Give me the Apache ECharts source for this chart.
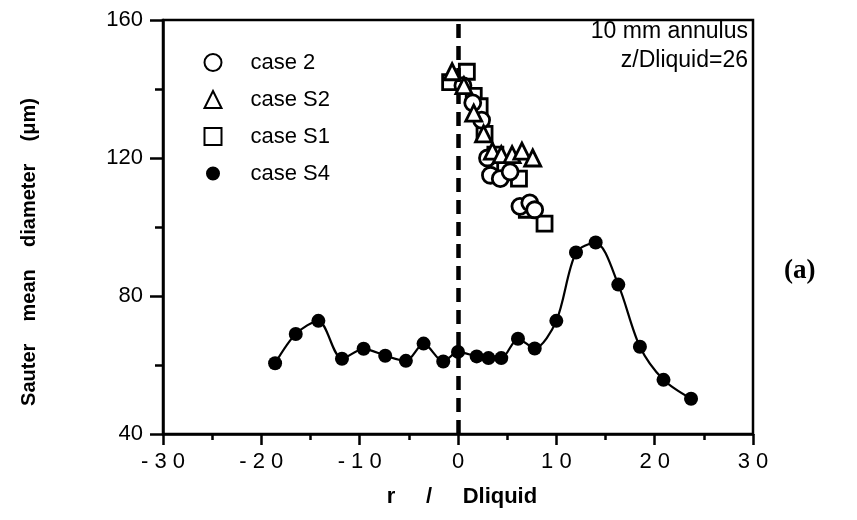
<!DOCTYPE html>
<html><head><meta charset="utf-8">
<script src="https://cdn.jsdelivr.net/npm/echarts@6/dist/echarts.min.js"></script>
<style>html,body{margin:0;padding:0;background:#fff}#c{width:857px;height:520px}</style>
</head><body><div id="c"></div>
<script>
const xTicks = [-30, -20, -10, 0, 10, 20, 30];
const yTicks = [40, 80, 120, 160];
const seriesNames = ['case 2', 'case S2', 'case S1', 'case S4'];
const case2 = [[0.5,141],[1.5,136],[2.4,131],[3.0,120],[3.3,115],[4.3,114],[5.3,116],[6.3,106],[7.3,107],[7.8,105]];
const caseS2 = [[-0.6,145],[0.6,141],[1.6,133],[2.6,127],[3.5,122],[4.4,121],[5.5,121],[6.5,122],[7.6,120]];
const caseS1 = [[-0.8,142],[0.9,145],[1.6,138],[2.2,135],[2.7,127],[3.8,121],[4.8,117],[6.2,114],[7.0,105],[8.8,101]];
const caseS4 = [[-18.6,60.5],[-16.5,69],[-14.2,72.8],[-11.8,61.8],[-9.6,64.7],[-7.4,62.7],[-5.3,61.2],[-3.5,66.2],[-1.5,61],[0,63.8],[1.9,62.5],[3.1,62],[4.4,62],[6.1,67.6],[7.8,64.8],[10,72.8],[12,92.6],[14,95.5],[16.3,83.3],[18.5,65.3],[20.9,55.7],[23.7,50.2]];
const centerLineX = 0;
const note1 = '10 mm annulus';
const note2 = 'z/Dliquid=26';
const xName = 'r     /     Dliquid';
const yName = 'Sauter    mean    diameter    (μm)';

const chart = echarts.init(document.getElementById('c'));
const hollow = {color:'#fff', borderColor:'#000', borderWidth:2.8, opacity:1};
const FONT = '"Liberation Sans", Arial, sans-serif';
chart.setOption({
  animation:false,
  backgroundColor:'#fff',
  grid:{left:163, right:104, top:20, bottom:86, show:true, borderColor:'#000', borderWidth:2.5},
  xAxis:{type:'value', min:-30, max:30, interval:10,
    axisLine:{onZero:false, lineStyle:{color:'#000', width:2.5}},
    axisTick:{length:11, lineStyle:{color:'#000', width:2.5}},
    minorTick:{show:true, splitNumber:2, length:6, lineStyle:{color:'#000', width:2.5}},
    splitLine:{show:false},
    axisLabel:{color:'#000', fontSize:22, fontFamily:FONT, margin:17,
      formatter:v=>xTicks.includes(v)?String(v).split('').join(' '):''}},
  yAxis:{type:'value', min:40, max:160, interval:40,
    axisLine:{onZero:false, lineStyle:{color:'#000', width:2.5}},
    axisTick:{length:13, lineStyle:{color:'#000', width:2.5}},
    minorTick:{show:true, splitNumber:2, length:8, lineStyle:{color:'#000', width:2.5}},
    splitLine:{show:false},
    axisLabel:{color:'#000', fontSize:22, fontFamily:FONT, margin:20,
      formatter:v=>yTicks.includes(v)?String(v):''}},
  legend:{orient:'vertical', left:198, top:46, itemGap:14, itemWidth:17, itemHeight:17,
    textStyle:{color:'#000', fontSize:22, fontFamily:FONT, lineHeight:23, padding:[0,0,0,24]},
    data:[
      {name:seriesNames[0], icon:'circle'},
      {name:seriesNames[1], icon:'triangle'},
      {name:seriesNames[2], icon:'rect'},
      {name:seriesNames[3], icon:'circle', itemStyle:{color:'#000', borderWidth:3, borderColor:'#fff'}}
    ]},
  series:[
    {name:seriesNames[3], type:'line', data:caseS4, smooth:0.3, symbol:'circle', symbolSize:14,
      lineStyle:{color:'#000', width:2.2}, itemStyle:{color:'#000', opacity:1}, z:2,
      markLine:{silent:true, symbol:'none', label:{show:false},
        lineStyle:{color:'#000', width:4.5, type:[14,8]},
        data:[{xAxis:centerLineX}]}},
    {name:seriesNames[2], type:'scatter', data:caseS1, symbol:'rect', symbolSize:15, itemStyle:hollow, z:3},
    {name:seriesNames[0], type:'scatter', data:case2, symbol:'circle', symbolSize:16, itemStyle:hollow, z:4},
    {name:seriesNames[1], type:'scatter', data:caseS2, symbol:'triangle', symbolSize:16, itemStyle:hollow, z:5}
  ],
  graphic:[
    {type:'text', x:748, y:32, style:{text:note1, fill:'#000', font:'23px '+FONT, textAlign:'right', textVerticalAlign:'middle'}},
    {type:'text', x:748, y:61, style:{text:note2, fill:'#000', font:'23px '+FONT, textAlign:'right', textVerticalAlign:'middle'}},
    {type:'text', x:784, y:271, style:{text:'(a)', fill:'#000', font:'bold 27px "Liberation Serif", serif', textVerticalAlign:'middle'}},
    {type:'text', x:462, y:497, style:{text:xName, fill:'#000', font:'bold 22px '+FONT, textAlign:'center', textVerticalAlign:'middle'}},
    {type:'text', x:29, y:252, rotation:Math.PI/2, style:{text:yName, fill:'#000', font:'bold 20px '+FONT, textAlign:'center', textVerticalAlign:'middle'}}
  ]
});
</script></body></html>
